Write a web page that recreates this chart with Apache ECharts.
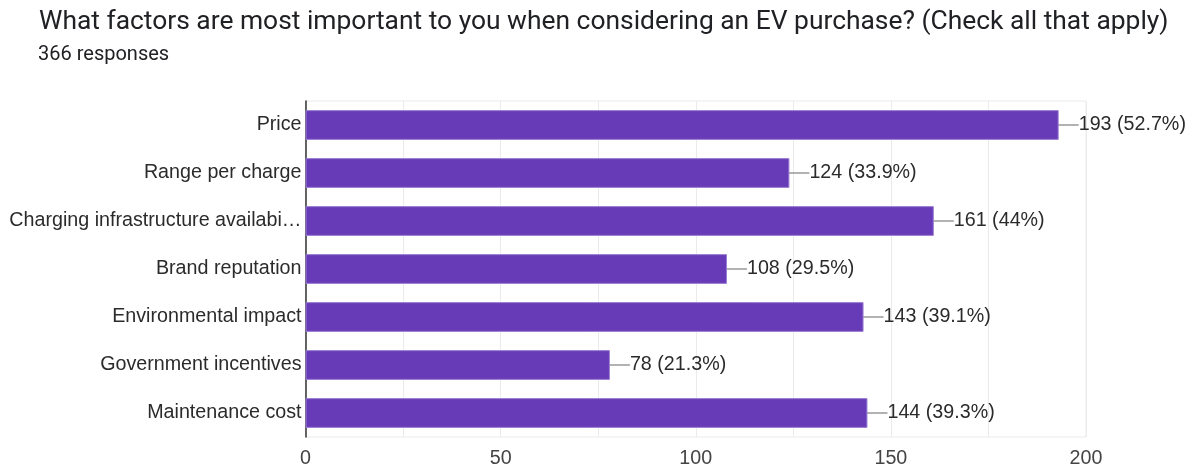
<!DOCTYPE html>
<html>
<head>
<meta charset="utf-8">
<script src="https://cdn.jsdelivr.net/npm/echarts@6/dist/echarts.min.js"></script>
<style>
  html, body { margin: 0; padding: 0; background: #fff; }
  #chart { width: 1193px; height: 470px; }
</style>
</head>
<body>
<div id="chart"></div>
<script>
const titleText = 'What factors are most important to you when considering an EV purchase? (Check all that apply)';
const subtitleText = '366 responses';
const categories = [
  'Price',
  'Range per charge',
  'Charging infrastructure availabi\u2026',
  'Brand reputation',
  'Environmental impact',
  'Government incentives',
  'Maintenance cost'
];
const counts = [193, 124, 161, 108, 143, 78, 144];
const percents = ['52.7%', '33.9%', '44%', '29.5%', '39.1%', '21.3%', '39.3%'];
const axisTicks = [0, 50, 100, 150, 200];

const chart = echarts.init(document.getElementById('chart'), null, { renderer: 'canvas' });
const headFont = 'Roboto, "Noto Sans", Arial, sans-serif';
const chartFont = 'Arial, "Liberation Sans", sans-serif';

chart.setOption({
  animation: false,
  backgroundColor: '#ffffff',
  title: [
    { text: titleText, left: 34, top: 4,
      textStyle: { fontFamily: headFont, fontSize: 26.4, fontWeight: 'normal', color: '#202124' } },
    { text: subtitleText, left: 33, top: 40,
      textStyle: { fontFamily: headFont, fontSize: 20, fontWeight: 'normal', color: '#202124' } }
  ],
  grid: {
    left: 305.5, right: 107, top: 101, bottom: 33,
    show: true, borderColor: '#ebebeb', borderWidth: 1
  },
  xAxis: {
    type: 'value', min: 0, max: 200, interval: 25,
    axisLine: { show: false }, axisTick: { show: false },
    splitLine: { show: true, lineStyle: { color: '#ebebeb', width: 1 } },
    axisLabel: {
      margin: 12, fontFamily: chartFont, fontSize: 19.7, color: '#444',
      formatter: v => axisTicks.includes(v) ? String(v) : ''
    }
  },
  yAxis: {
    type: 'category', data: categories, inverse: true,
    axisLine: { show: true, lineStyle: { color: '#333', width: 1.5 } },
    axisTick: { show: false },
    axisLabel: { margin: 4, fontFamily: chartFont, fontSize: 19.7, color: '#2b2b2b' }
  },
  series: [{
    type: 'bar',
    data: counts,
    barWidth: '62%',
    itemStyle: { color: '#673ab7', borderColor: '#9c7fd3', borderWidth: 1 },
    label: {
      show: true, position: 'right', distance: 0,
      fontFamily: chartFont, fontSize: 19.7, color: '#2b2b2b',
      formatter: p => p.value + ' (' + percents[p.dataIndex] + ')'
    },
    labelLayout: { dx: 20 },
    labelLine: { show: true, lineStyle: { color: '#999', width: 1.5 } }
  }]
});
</script>
</body>
</html>
